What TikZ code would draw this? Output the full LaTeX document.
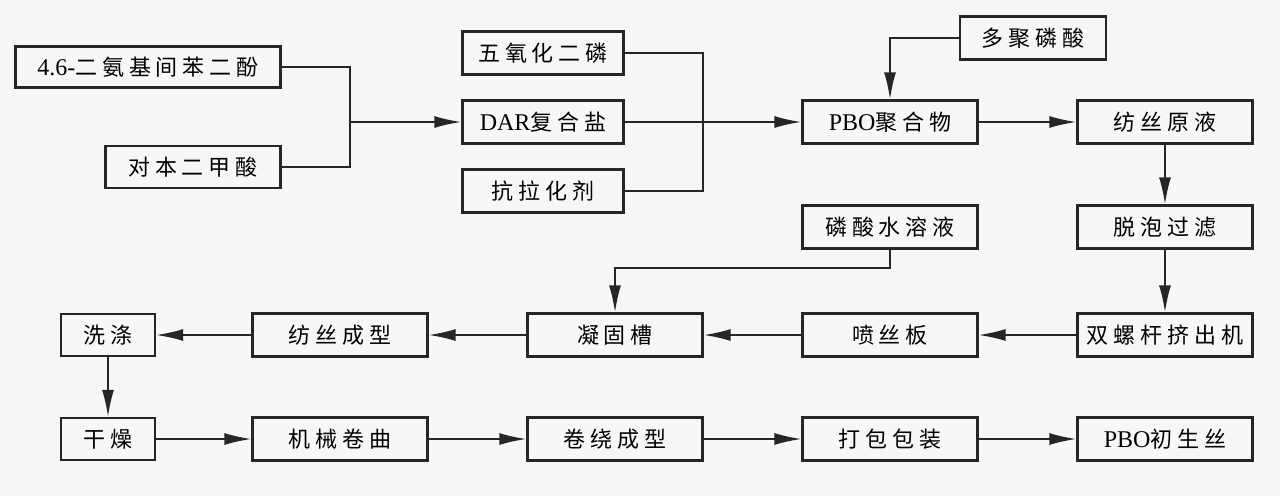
\documentclass[tikz,border=0pt]{standalone}
\usepackage{fontspec}
\setmainfont{Liberation Serif}
\newfontfamily\cjk[LetterSpace=22]{Noto Sans CJK SC}
\usetikzlibrary{arrows.meta}
\begin{document}
\begin{tikzpicture}[x=1pt,y=-1pt,
  box/.style={draw=black!85, line width=2.2pt, minimum height=43pt, minimum width=175pt, inner sep=0pt,
    font=\fontsize{22}{26}\selectfont\cjk},
  ln/.style={draw=black!85, line width=1.9pt},
  arr/.style={ln, -{Latex[length=27pt,width=12pt]}}]
\fill[white!97!black] (0,0) rectangle (1280,496);
\useasboundingbox (0,0) rectangle (1280,496);
% top-left group
\node[box, minimum width=265pt, minimum height=41pt] (dar1) at (148,67) {{\rmfamily\fontsize{24}{26}\selectfont 4.6-}二氨基间苯二酚};
\node[box, minimum height=42pt] (tpa) at (193,167) {对本二甲酸};
\node[box, minimum width=161pt] (p2o5) at (543,53) {五氧化二磷};
\node[box, minimum width=161pt] (dar) at (543,122) {{\rmfamily\fontsize{24}{26}\selectfont DAR}复合盐};
\node[box, minimum width=161pt] (kl) at (543,191) {抗拉化剂};
\node[box, minimum width=146pt] (ppa) at (1033,38) {多聚磷酸};
\node[box] (pbo) at (890,122) {{\rmfamily\fontsize{24}{26}\selectfont PBO}聚合物};
\node[box] (yy) at (1165,122) {纺丝原液};
\node[box] (tp) at (1165,227) {脱泡过滤};
\node[box] (ls) at (890,227) {磷酸水溶液};
% middle row
\node[box] (sl) at (1165,335) {双螺杆挤出机};
\node[box] (ps) at (890,335) {喷丝板};
\node[box] (ng) at (615,335) {凝固槽};
\node[box] (fs) at (340,335) {纺丝成型};
\node[box, minimum width=94pt, minimum height=42pt] (xd) at (108,335) {洗涤};
% bottom row
\node[box, minimum width=94pt, minimum height=42pt] (gz) at (108,439) {干燥};
\node[box] (jx) at (340,439) {机械卷曲};
\node[box] (jr) at (615,439) {卷绕成型};
\node[box] (db) at (890,439) {打包包装};
\node[box] (cs) at (1165,439) {{\rmfamily\fontsize{24}{26}\selectfont PBO}初生丝};
% connectors
\coordinate (j1) at (350,122);
\coordinate (j2) at (703,122);
\coordinate (c1) at (890,268);
\draw[ln] (dar1.east) -| (j1);
\draw[ln] (tpa.east) -| (j1);
\draw[arr] (j1) -- (dar.west);
\draw[ln] (p2o5.east) -| (j2);
\draw[ln] (kl.east) -| (j2);
\draw[arr] (dar.east) -- (pbo.west);
\draw[arr] (ppa.west) -| (pbo.north);
\draw[arr] (pbo.east) -- (yy.west);
\draw[arr] (yy.south) -- (tp.north);
\draw[arr] (tp.south) -- (sl.north);
\draw[arr] (sl.west) -- (ps.east);
\draw[arr] (ps.west) -- (ng.east);
\draw[arr] (ls.south) -- (c1) -| (ng.north);
\draw[arr] (ng.west) -- (fs.east);
\draw[arr] (fs.west) -- (xd.east);
\draw[arr] (xd.south) -- (gz.north);
\draw[arr] (gz.east) -- (jx.west);
\draw[arr] (jx.east) -- (jr.west);
\draw[arr] (jr.east) -- (db.west);
\draw[arr] (db.east) -- (cs.west);
\end{tikzpicture}
\end{document}
